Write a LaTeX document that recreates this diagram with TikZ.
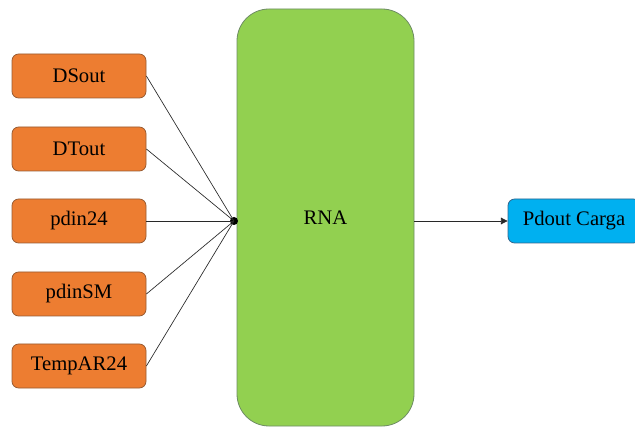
\documentclass[tikz,border=0pt]{standalone}
\usepackage{fontspec}
\setmainfont{Liberation Serif}
\usepackage{xcolor}
\usetikzlibrary{positioning,arrows.meta}
\definecolor{inpfill}{RGB}{237,125,49}
\definecolor{inpstroke}{RGB}{150,90,50}
\definecolor{rnafill}{RGB}{146,208,80}
\definecolor{rnastroke}{RGB}{110,140,100}
\definecolor{outfill}{RGB}{0,176,240}
\definecolor{outstroke}{RGB}{50,100,140}
\definecolor{edgecol}{RGB}{40,40,40}

\begin{document}
\begin{tikzpicture}[
    x=0.75pt, y=-0.75pt,
    inbox/.style={draw=inpstroke, fill=inpfill, rounded corners=5pt, minimum width=100.5pt, minimum height=33pt, inner sep=0pt, line width=0.6pt},
    rnabox/.style={draw=rnastroke, fill=rnafill, rounded corners=24pt, minimum width=132.75pt, minimum height=312.75pt, inner sep=0pt, line width=0.6pt},
    outbox/.style={draw=outstroke, fill=outfill, rounded corners=5pt, minimum width=99pt, minimum height=33pt, inner sep=0pt, line width=0.6pt},
    link/.style={edgecol, line width=0.5pt},
    every node/.style={font=\fontsize{15.5}{18}\selectfont},
]
  \useasboundingbox (0,0) rectangle (635,427);
  \node[rnabox] (rna) at (325.5,217.5) {RNA};
  \node[inbox] (in0) at (79,76) {DSout};
  \node[inbox] (in1) at (79,149) {DTout};
  \node[inbox] (in2) at (79,221) {pdin24};
  \node[inbox] (in3) at (79,294) {pdinSM};
  \node[inbox] (in4) at (79,366) {TempAR24};
  \node[outbox] (out0) at (574,221) {Pdout Carga};
  \node[circle, fill=black, minimum size=6pt, inner sep=0pt] (joint) at (234,221) {};
  \draw[link] (in0.east) -- (joint.center);
  \draw[link] (in1.east) -- (joint.center);
  \draw[link] (in2.east) -- (joint.center);
  \draw[link] (in3.east) -- (joint.center);
  \draw[link] (in4.east) -- (joint.center);
  \draw[link, -{Triangle[length=5pt, width=5pt]}] (rna.east |- out0.west) -- (out0.west);
\end{tikzpicture}
\end{document}
